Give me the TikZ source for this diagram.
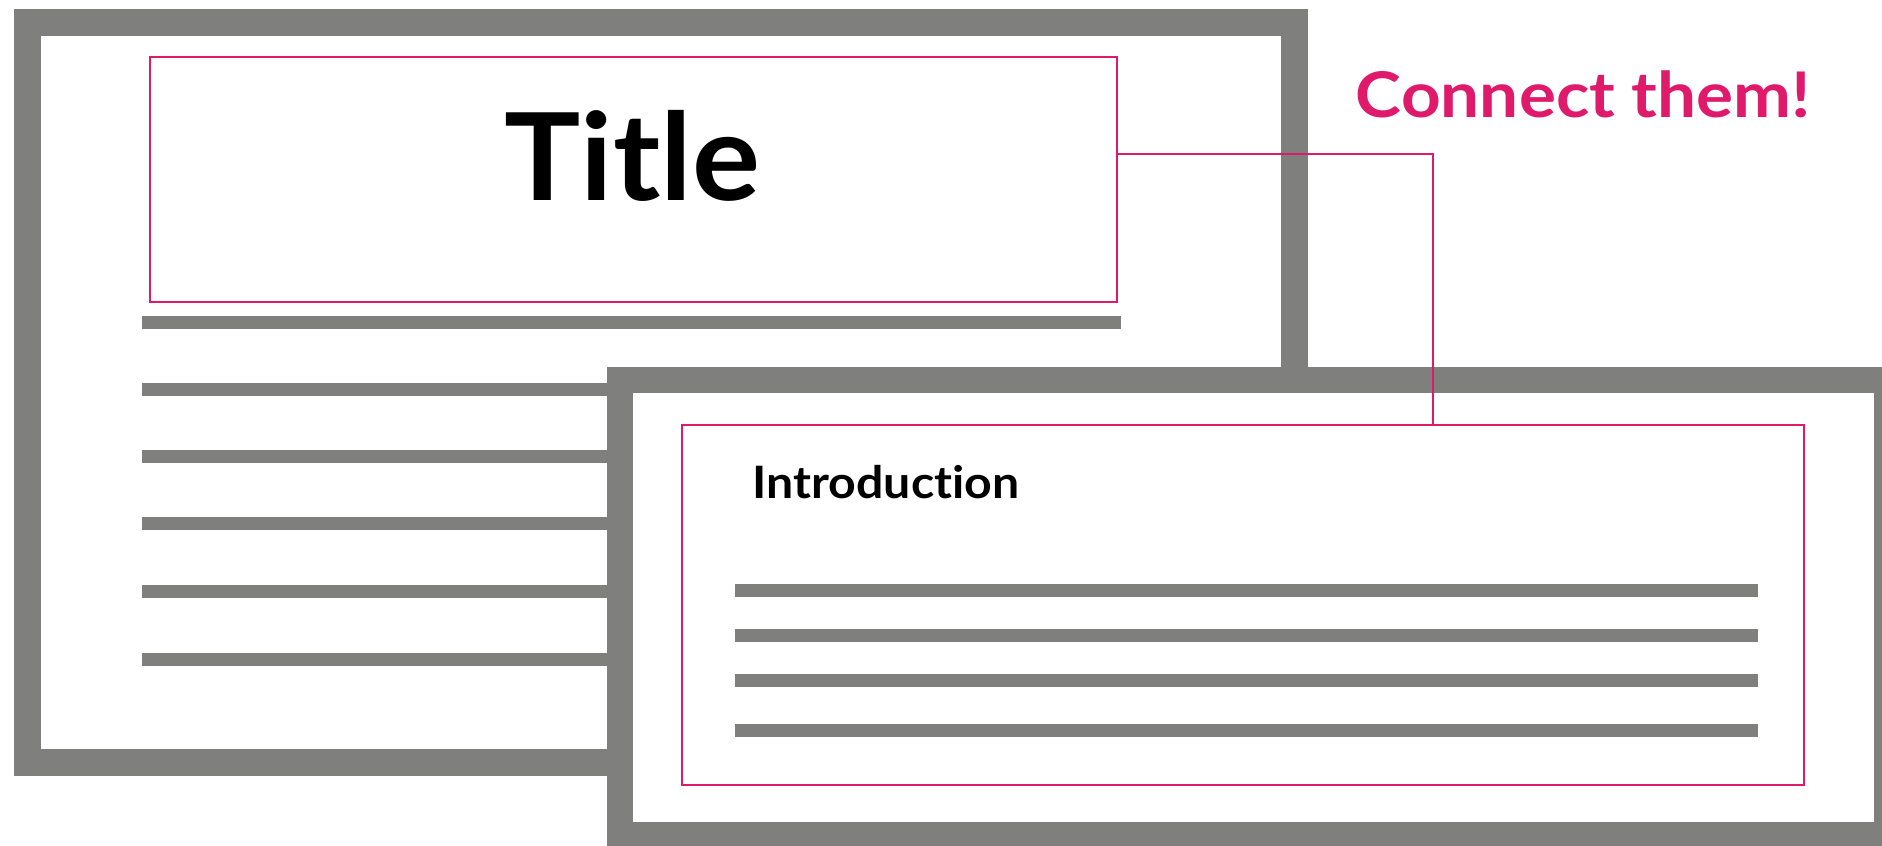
\documentclass[tikz,border=0pt]{standalone}
\usepackage{fontspec}
\setmainfont{Lato}[Ligatures=NoCommon]
\newfontfamily\titlefont{Lato}[Ligatures=NoCommon, FakeStretch=1.05]
\newfontfamily\introfont{Lato}[Ligatures=NoCommon, FakeStretch=1.08]
\newfontfamily\labelfont{Lato}[Ligatures=NoCommon, FakeStretch=1.10]
\definecolor{framegray}{HTML}{7F7F7E}
\definecolor{hotpink}{HTML}{E01A6A}
\tikzset{
  frameouter/.style={fill=framegray, draw=none},
  frameinner/.style={fill=white, draw=none},
  textline/.style={draw=framegray, line width=0.13cm},
  pinkbox/.style={draw=hotpink, line width=0.02cm, fill=none, inner sep=0pt, anchor=north west},
  pinkline/.style={draw=hotpink, line width=0.02cm},
}
\begin{document}
\begin{tikzpicture}[x=0.01cm,y=-0.01cm]
\useasboundingbox (0,0) rectangle (1882,845);
\clip (0,0) rectangle (1882,845);
% back window
\fill[frameouter] (14,9) rectangle (1308,776);
\fill[frameinner] (41,36) rectangle (1281,749);
\foreach \yy in {322.5,389,456.5,523.5,591,659.5}
  \draw[textline] (142,\yy) -- (1121,\yy);
\node[pinkbox, minimum width=967*0.01cm, minimum height=245*0.01cm] (title) at (149,56) {};
\node[anchor=base, font=\titlefont\fontsize{34.5}{40}\selectfont\bfseries, inner sep=0pt] (titletext) at (632.5,200) {Title};
% front window
\fill[frameouter] (607,367) rectangle (1900,848);
\fill[frameinner] (633,393) rectangle (1874,822);
\node[pinkbox, minimum width=1122*0.01cm, minimum height=360*0.01cm] (intro) at (681,424) {};
\node[anchor=base west, font=\introfont\fontsize{12.7}{15}\selectfont\bfseries, inner sep=0pt] (introtext) at (752,498) {Introduction};
\foreach \yy in {590.5,635.5,680.5,730.5}
  \draw[textline] (735,\yy) -- (1758,\yy);
% label
\node[anchor=base, font=\labelfont\fontsize{17.9}{21}\selectfont\bfseries, text=hotpink, inner sep=0pt] (label) at (1583.5,117) {Connect them!};
% connector
\coordinate (bend) at (1433,154);
\draw[pinkline] (title.east |- bend) -- (bend) -- (bend |- intro.north);
\end{tikzpicture}
\end{document}
